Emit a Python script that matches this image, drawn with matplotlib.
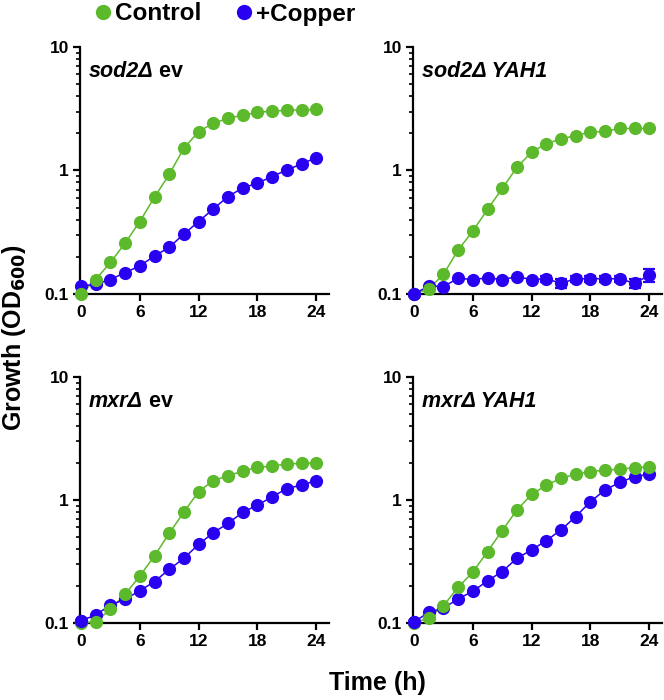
import matplotlib
matplotlib.use("Agg")
import matplotlib.pyplot as plt
from matplotlib.lines import Line2D
import numpy as np

plt.rcParams['font.family'] = ['Liberation Sans', 'DejaVu Sans']
plt.rcParams['font.weight'] = 'bold'

time_h = [0, 1.5, 3, 4.5, 6, 7.5, 9, 10.5, 12, 13.5, 15, 16.5, 18, 19.5, 21, 22.5, 24]

# sod2Δ ev
sod2_ev_control = [0.100, 0.131, 0.180, 0.258, 0.386, 0.608, 0.93, 1.52, 2.06, 2.42, 2.64, 2.81, 2.95, 3.03, 3.07, 3.10, 3.12]
sod2_ev_copper = [0.116, 0.120, 0.131, 0.149, 0.169, 0.203, 0.239, 0.306, 0.386, 0.489, 0.615, 0.723, 0.789, 0.894, 1.01, 1.13, 1.27]
# sod2Δ YAH1
sod2_yah1_control = [0.100, 0.110, 0.144, 0.227, 0.323, 0.484, 0.715, 1.06, 1.41, 1.65, 1.80, 1.92, 2.04, 2.08, 2.19, 2.19, 2.19]
sod2_yah1_copper = [0.100, 0.116, 0.115, 0.134, 0.131, 0.135, 0.131, 0.138, 0.131, 0.133, 0.122, 0.133, 0.133, 0.133, 0.133, 0.122, 0.142]
sod2_yah1_copper_err = [0, 0, 0, 0, 0, 0, 0, 0, 0, 0.008, 0.010, 0.008, 0.008, 0.008, 0.008, 0.010, 0.016]
# mxrΔ ev
mxr_ev_control = [0.100, 0.1025, 0.129, 0.171, 0.241, 0.351, 0.536, 0.798, 1.17, 1.44, 1.57, 1.72, 1.84, 1.89, 1.96, 1.99, 2.01]
mxr_ev_copper = [0.1045, 0.116, 0.140, 0.156, 0.183, 0.217, 0.273, 0.336, 0.436, 0.542, 0.646, 0.794, 0.91, 1.06, 1.24, 1.32, 1.44]
# mxrΔ YAH1
mxr_yah1_control = [0.100, 0.110, 0.138, 0.195, 0.259, 0.381, 0.564, 0.830, 1.11, 1.32, 1.50, 1.62, 1.70, 1.75, 1.78, 1.83, 1.86]
mxr_yah1_copper = [0.102, 0.122, 0.132, 0.157, 0.181, 0.220, 0.262, 0.336, 0.393, 0.468, 0.571, 0.733, 0.969, 1.21, 1.39, 1.55, 1.62]

titles = [("sod2Δ", " ev"), ("sod2Δ YAH1", ""), ("mxrΔ", " ev"), ("mxrΔ YAH1", "")]
controls = [sod2_ev_control, sod2_yah1_control, mxr_ev_control, mxr_yah1_control]
coppers = [sod2_ev_copper, sod2_yah1_copper, mxr_ev_copper, mxr_yah1_copper]
copper_errs = [None, sod2_yah1_copper_err, None, None]
first_on_top = ["Control", "+Copper", "+Copper", "+Copper"]

series_names = ["Control", "+Copper"]
green = '#5DB92C'
blue = '#2A00F0'

x_ticks = [0, 6, 12, 18, 24]
y_ticks = [0.1, 1, 10]
y_ticklabels = ["0.1", "1", "10"]

W, H = 664, 700
fig = plt.figure(figsize=(W / 100, H / 100), dpi=100)

pos = [
    (80, 47, 329, 294),
    (413, 47, 662, 294),
    (80, 377, 329, 623),
    (413, 377, 662, 623),
]

ms = 9.5
for i, (x0, y0, x1, y1) in enumerate(pos):
    ax = fig.add_axes([x0 / W, 1 - y1 / H, (x1 - x0) / W, (y1 - y0) / H])
    ax.set_yscale('log')
    ax.set_xlim(-0.1, 25.3)
    ax.set_ylim(0.1, 10)
    c = np.array(controls[i])
    b = np.array(coppers[i])
    t = np.array(time_h)
    ax.plot(t, c, '-', color=green, lw=1.1, zorder=3, clip_on=False)
    ax.plot(t, b, '-', color=blue, lw=1.1, zorder=3, clip_on=False)
    if copper_errs[i] is not None:
        e = np.array(copper_errs[i])
        m = e > 0
        ax.errorbar(t[m], b[m], yerr=e[m], fmt='none', ecolor=blue, elinewidth=1.6,
                    capsize=4.5, capthick=1.6, zorder=3.5, clip_on=False)
    ax.plot(t, b, 'o', color=blue, ms=ms, mec='none', zorder=4, clip_on=False)
    ax.plot(t, c, 'o', color=green, ms=ms, mec='none', zorder=5, clip_on=False)
    if first_on_top[i] == "+Copper":
        ax.plot(t[:1], b[:1], 'o', color=blue, ms=ms, mec='none', zorder=6, clip_on=False)

    for s in ['top', 'right']:
        ax.spines[s].set_visible(False)
    for s in ['left', 'bottom']:
        ax.spines[s].set_linewidth(1.6)
    ax.set_xticks(x_ticks)
    ax.set_xticklabels([str(v) for v in x_ticks])
    ax.set_yticks(y_ticks)
    ax.set_yticklabels(y_ticklabels)
    ax.yaxis.set_minor_locator(matplotlib.ticker.LogLocator(base=10, subs=np.arange(2, 10)))
    ax.yaxis.set_minor_formatter(matplotlib.ticker.NullFormatter())
    ax.tick_params(axis='both', which='major', direction='out', length=5, width=1.6,
                   labelsize=12.5, pad=3)
    ax.tick_params(axis='y', which='minor', direction='out', length=3, width=1.2)
    for lab in ax.get_xticklabels() + ax.get_yticklabels():
        lab.set_fontweight('bold')

    it, rest = titles[i]
    t1 = ax.text(0.035, 0.88, it, transform=ax.transAxes, fontsize=15.5,
                 fontweight='bold', fontstyle='italic', va='baseline', ha='left')
    if rest:
        ax.annotate(rest, xy=(1, 0), xycoords=t1, fontsize=15.5, fontweight='bold',
                    va='bottom', ha='left')

handles = [
    Line2D([], [], marker='o', ls='none', color=green, ms=11, mec='none'),
    Line2D([], [], marker='o', ls='none', color=blue, ms=11, mec='none'),
]
fig.legend(handles, series_names, loc='center', bbox_to_anchor=(224 / W, 1 - 14 / H),
           ncol=2, frameon=False, prop={'size': 17.5, 'weight': 'bold'},
           handletextpad=0.05, columnspacing=1.3, handlelength=0.9, borderaxespad=0)

fig.text(377 / W, 1 - 683 / H, "Time (h)", ha='center', va='center', fontsize=18, fontweight='bold')
fig.text(14 / W, 1 - 338 / H, "Growth (OD$_{\\mathbf{600}}$)", ha='center', va='center',
         rotation=90, fontsize=18, fontweight='bold')

fig.savefig("out.png", dpi=100)
